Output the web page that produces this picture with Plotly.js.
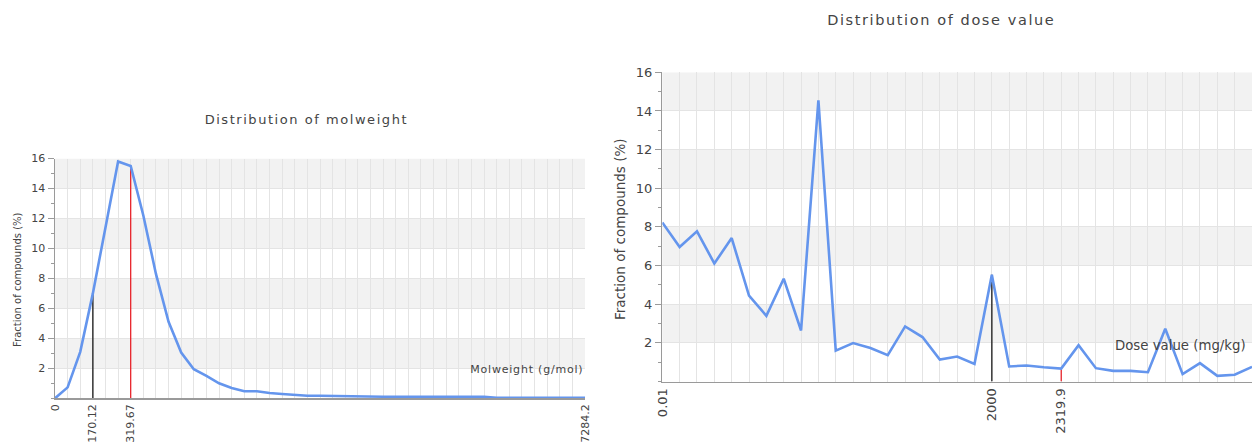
<!DOCTYPE html>
<html>
<head>
<meta charset="utf-8">
<script src="https://cdn.plot.ly/plotly-3.0.1.min.js"></script>
<style>
  html, body { margin: 0; padding: 0; background: #fff; }
  #chart { width: 1258px; height: 444px; }
  /* chart titles and the molweight axis label are set with wider tracking */
  g.annotation[data-index="0"] text { letter-spacing: 1.55px; }
  g.annotation[data-index="1"] text { letter-spacing: 1.6px; }
  g.annotation[data-index="2"] text { letter-spacing: 0.8px; }
</style>
</head>
<body>
<div id="chart"></div>
<script>
// Molweight distribution: fraction of compounds (%) per bin (bins evenly spaced)
const mwFraction = [0, 0.73, 3.1, 7.0, 11.4, 15.8, 15.5, 12.2, 8.3, 5.1, 3.05, 1.94, 1.5, 1.0, 0.69,
  0.47, 0.47, 0.35, 0.29, 0.22, 0.17, 0.17, 0.15, 0.15, 0.1, 0.1, 0.1, 0.1, 0.1, 0.1, 0.1, 0.1,
  0.1, 0.1, 0.1, 0.04, 0.03, 0.03, 0.03, 0.03, 0.03, 0.03, 0.03];
const mwTickPos = [0, 3, 6, 42];
const mwTickText = ['0', '170.12', '319.67', '7284.2'];
const mwDarkMark = 3;   // bin holding 170.12
const mwRedMark = 6;    // bin holding 319.67

// Dose value distribution: fraction of compounds (%) per bin
const doseFraction = [8.23, 6.96, 7.77, 6.11, 7.42, 4.44, 3.40, 5.32, 2.64, 14.55, 1.6, 1.99, 1.73,
  1.36, 2.85, 2.3, 1.14, 1.29, 0.91, 5.52, 0.78, 0.83, 0.74, 0.67, 1.88, 0.69, 0.55, 0.55, 0.48,
  2.73, 0.38, 0.95, 0.29, 0.35, 0.76];
const doseTickPos = [0, 19, 23, 34];
const doseTickText = ['0.01', '2000', '2319.9', '3500'];
const doseDarkMark = 19; // bin holding 2000
const doseRedMark = 23;  // bin holding 2319.9

const yTickVals = [2, 4, 6, 8, 10, 12, 14, 16];
const bandRanges = [[2, 4], [6, 8], [10, 12], [14, 16]];

const W = 1258, H = 444;
const px = v => v / W;
const py = v => 1 - v / H;

const FONT = 'DejaVu Sans, Verdana, sans-serif';
const TXT = '#444';
const LINE_BLUE = '#6495ed';
const GRID = '#e4e4e4';
const AXIS = '#9a9a9a';

function idx(arr) { return arr.map((_, i) => i); }

function markTrace(xa, ya, pos, values, color, width) {
  return {
    x: [pos, pos], y: [0, values[pos]], xaxis: xa, yaxis: ya,
    mode: 'lines', line: { color: color, width: width }, hoverinfo: 'skip', showlegend: false
  };
}

const traces = [
  markTrace('x', 'y', mwDarkMark, mwFraction, '#333333', 1.5),
  markTrace('x', 'y', mwRedMark, mwFraction, '#e8141c', 1.2),
  {
    x: idx(mwFraction), y: mwFraction, xaxis: 'x', yaxis: 'y', mode: 'lines',
    line: { color: LINE_BLUE, width: 2.6 }, hoverinfo: 'skip', showlegend: false
  },
  markTrace('x2', 'y2', doseDarkMark, doseFraction, '#333333', 1.5),
  markTrace('x2', 'y2', doseRedMark, doseFraction, '#e8141c', 1.2),
  {
    x: idx(doseFraction), y: doseFraction, xaxis: 'x2', yaxis: 'y2', mode: 'lines',
    line: { color: LINE_BLUE, width: 2.6 }, hoverinfo: 'skip', showlegend: false
  }
];

function xAxis(domain, n, tickPos, tickText, size, anchor) {
  return {
    domain: domain, range: [0, n - 1], anchor: anchor,
    tickmode: 'array', tickvals: tickPos, ticktext: tickText, tickangle: -90,
    tickfont: { family: FONT, size: size, color: TXT },
    showgrid: true, gridcolor: GRID, gridwidth: 1,
    minor: { tickmode: 'linear', tick0: 0, dtick: 1, showgrid: true, gridcolor: GRID, gridwidth: 1 },
    showline: true, linecolor: AXIS, linewidth: 1.5,
    ticks: '', zeroline: false, fixedrange: true
  };
}

function yAxis(domain, size, anchor) {
  return {
    domain: domain, range: [0, 16], anchor: anchor,
    tickmode: 'array', tickvals: yTickVals,
    tickfont: { family: FONT, size: size, color: TXT },
    showgrid: true, gridcolor: GRID, gridwidth: 1,
    minor: { tickmode: 'linear', tick0: 0, dtick: 1, ticks: 'outside', ticklen: 3, tickcolor: AXIS, showgrid: false },
    showline: true, linecolor: AXIS, linewidth: 1.5,
    ticks: 'outside', ticklen: 6, tickcolor: AXIS,
    zeroline: false, fixedrange: true
  };
}

const shapes = [];
[['x', 'y'], ['x2', 'y2']].forEach(([xa, ya]) => {
  bandRanges.forEach(([y0, y1]) => {
    shapes.push({
      type: 'rect', xref: xa + ' domain', yref: ya, x0: 0, x1: 1, y0: y0, y1: y1,
      fillcolor: '#f2f2f2', line: { width: 0 }, layer: 'below'
    });
  });
});

function note(text, x, y, size, opts) {
  return Object.assign({
    text: text, xref: 'paper', yref: 'paper', x: px(x), y: py(y),
    showarrow: false, font: { family: FONT, size: size, color: TXT },
    xanchor: 'center', yanchor: 'middle'
  }, opts || {});
}

const annotations = [
  note('Distribution of molweight', 306.5, 119.5, 13),
  note('Distribution of dose value', 941, 20, 14.5),
  note('Molweight (g/mol)', 579, 369, 11, { xanchor: 'right' }),
  note('Dose value (mg/kg)', 1248, 345, 13.3, { xanchor: 'right' }),
  note('Fraction of compounds (%)', 17, 280, 10, { textangle: -90 }),
  note('Fraction of compounds (%)', 620, 229, 13.5, { textangle: -90 })
];

const layout = {
  width: W, height: H,
  margin: { l: 0, r: 0, t: 0, b: 0 },
  paper_bgcolor: '#ffffff', plot_bgcolor: '#ffffff',
  showlegend: false,
  xaxis: xAxis([px(55), px(585)], mwFraction.length, mwTickPos, mwTickText, 11, 'y'),
  yaxis: yAxis([py(398.3), py(158.5)], 11, 'x'),
  xaxis2: xAxis([px(662.3), px(1252)], doseFraction.length, doseTickPos, doseTickText, 13, 'y2'),
  yaxis2: yAxis([py(381.5), py(72.3)], 13, 'x2'),
  shapes: shapes,
  annotations: annotations
};

Plotly.newPlot('chart', traces, layout, { displayModeBar: false, staticPlot: true });
</script>
</body>
</html>
